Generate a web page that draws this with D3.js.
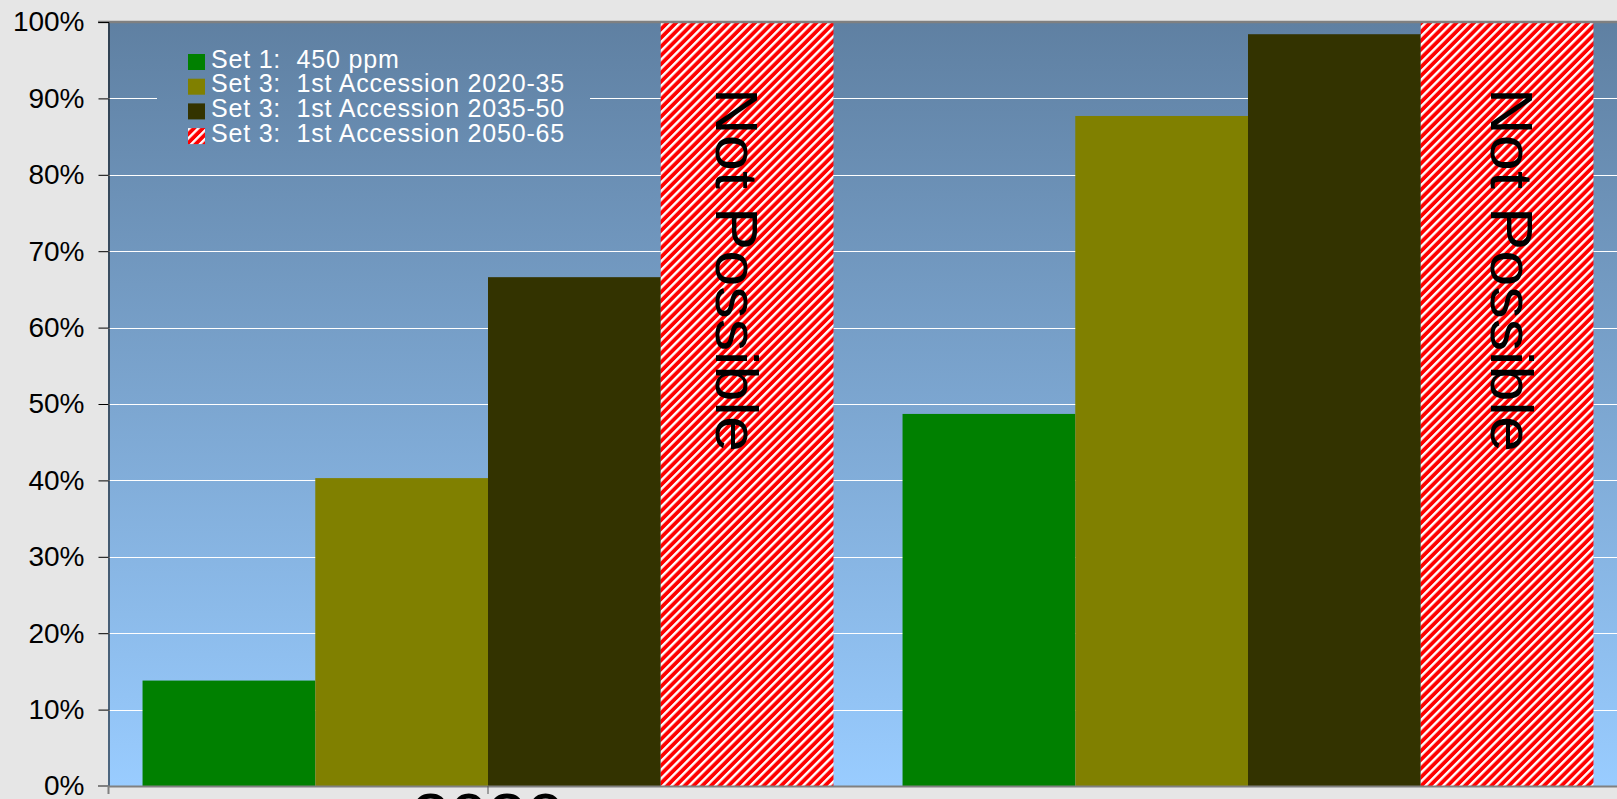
<!DOCTYPE html>
<html>
<head>
<meta charset="utf-8">
<script src="https://cdn.jsdelivr.net/npm/d3@7"></script>
<style>
  html, body { margin: 0; padding: 0; background: #e6e6e6; overflow: hidden; }
  text { font-family: "Liberation Sans", Arial, sans-serif; }
</style>
</head>
<body>
<svg id="chart" width="1617" height="799"></svg>
<script>
// categories (only the first label shows; the rest of the axis is cut off)
var groups = [0, 1];
var groupLabels = ["2030", ""];

var seriesNames = ["Set 1:  450 ppm",
                   "Set 3:  1st Accession 2020-35",
                   "Set 3:  1st Accession 2035-50",
                   "Set 3:  1st Accession 2050-65"];
var seriesColors = ["#008000", "#808000", "#333300", "url(#hatch)"];

var set1_450 = [0.138, 0.487];
var acc2020 = [0.403, 0.877];
var acc2035 = [0.666, 0.984];
var acc2050 = [1.0, 1.0];          // drawn full height, marked "Not Possible"
var acc2050Note = ["Not Possible", "Not Possible"];
var noteShift = [-9, 6];           // label nudge inside the hatched bar

var yTicks = [0, 0.1, 0.2, 0.3, 0.4, 0.5, 0.6, 0.7, 0.8, 0.9, 1.0];

var allSeries = [set1_450, acc2020, acc2035, acc2050];

var plotLeft = 108, plotTop = 22, plotBottom = 786;
var groupStep = 760;

var svg = d3.select("#chart");
var defs = svg.append("defs");

var grad = defs.append("linearGradient")
    .attr("id", "bg")
    .attr("gradientUnits", "userSpaceOnUse")
    .attr("x1", 0).attr("y1", plotTop)
    .attr("x2", 0).attr("y2", plotBottom);
grad.append("stop").attr("offset", "0%").attr("stop-color", "#5f80a2");
grad.append("stop").attr("offset", "100%").attr("stop-color", "#99ccff");

var hatch = defs.append("pattern")
    .attr("id", "hatch")
    .attr("patternUnits", "userSpaceOnUse")
    .attr("width", 6.2).attr("height", 6.2)
    .attr("patternTransform", "rotate(45)");
hatch.append("rect").attr("width", 6.2).attr("height", 6.2).attr("fill", "#ff0000");
hatch.append("rect").attr("x", 0).attr("width", 2.4).attr("height", 6.2).attr("fill", "#ffffff");

var xscale = d3.scaleBand()
    .domain(groups)
    .range([plotLeft, plotLeft + groupStep * groups.length]);

var xinner = d3.scaleBand()
    .domain(d3.range(seriesNames.length))
    .range([0, xscale.bandwidth()])
    .paddingInner(0)
    .paddingOuter(0.2);

var yscale = d3.scaleLinear()
    .domain([0, 1])
    .range([plotBottom, plotTop]);

// plot background
svg.append("rect")
    .attr("x", plotLeft)
    .attr("y", plotTop)
    .attr("width", xscale.range()[1] - plotLeft)
    .attr("height", plotBottom - plotTop)
    .attr("fill", "url(#bg)");

// gridlines
svg.append("g")
    .selectAll("line")
    .data(yTicks.filter(function(d){ return d > 0 && d < 1; }))
    .enter().append("line")
        .attr("x1", plotLeft)
        .attr("x2", xscale.range()[1])
        .attr("y1", function(d){ return Math.round(yscale(d)) + 0.5; })
        .attr("y2", function(d){ return Math.round(yscale(d)) + 0.5; })
        .attr("stroke", "#ffffff")
        .attr("stroke-width", 1);

// bars
var barG = svg.append("g");
allSeries.forEach(function(vals, si){
    barG.selectAll("rect.s" + si)
        .data(vals)
        .enter().append("rect")
            .attr("class", "s" + si)
            .attr("x", function(d, i){ return xscale(groups[i]) + xinner(si); })
            .attr("width", xinner.bandwidth())
            .attr("y", function(d){ return yscale(d); })
            .attr("height", function(d){ return yscale(0) - yscale(d); })
            .attr("fill", seriesColors[si]);
});

// "Not Possible" labels
barG.selectAll("text.note")
    .data(acc2050Note)
    .enter().append("text")
        .attr("class", "note")
        .attr("transform", function(d, i){
            var cx = xscale(groups[i]) + xinner(3) + xinner.bandwidth() / 2 + noteShift[i];
            return "translate(" + cx + "," + 88 + ") rotate(90)";
        })
        .attr("dy", "0.36em")
        .attr("font-size", "60px")
        .attr("textLength", 364)
        .attr("lengthAdjust", "spacingAndGlyphs")
        .attr("fill", "#000")
        .text(function(d){ return d; });

// top frame
svg.append("line")
    .attr("x1", plotLeft - 10).attr("x2", 1617)
    .attr("y1", plotTop).attr("y2", plotTop)
    .attr("stroke", "#808080").attr("stroke-width", 2.5);

// y axis
var yaxis = d3.axisLeft(yscale)
    .tickValues(yTicks)
    .tickSize(10)
    .tickPadding(14)
    .tickFormat(d3.format(".0%"));

var yg = svg.append("g")
    .attr("transform", "translate(" + (plotLeft + 0.5) + ",0)")
    .call(yaxis);
yg.select(".domain").attr("stroke", "#000");
yg.selectAll(".tick line").attr("stroke", "#000");
yg.selectAll(".tick text")
    .attr("font-size", "28px")
    .attr("font-family", "Liberation Sans, Arial, sans-serif")
    .attr("fill", "#000");

// x axis
var xaxis = d3.axisBottom(xscale)
    .tickSize(8)
    .tickPadding(0)
    .tickFormat(function(d, i){ return groupLabels[i]; });

var xg = svg.append("g")
    .attr("transform", "translate(0," + plotBottom + ")")
    .call(xaxis);
xg.select(".domain").attr("stroke", "#808080").attr("stroke-width", 2);
xg.selectAll(".tick line")
    .attr("stroke", "#555")
    .attr("display", function(d, i){ return groupLabels[i] ? null : "none"; });
xg.selectAll(".tick text")
    .attr("font-size", "69px")
    .attr("font-family", "Liberation Sans, Arial, sans-serif")
    .attr("dy", "0.71em")
    .attr("y", 6)
    .attr("fill", "#000");
svg.append("line")
    .attr("x1", plotLeft - 10).attr("x2", plotLeft)
    .attr("y1", plotBottom).attr("y2", plotBottom)
    .attr("stroke", "#808080").attr("stroke-width", 2);

// legend
var legend = svg.append("g");
legend.append("rect")
    .attr("x", 157).attr("y", 42)
    .attr("width", 433).attr("height", 108)
    .attr("fill", "url(#bg)");

var rowH = 24.7;
var rows = legend.selectAll("g.row")
    .data(seriesNames)
    .enter().append("g")
        .attr("class", "row")
        .attr("transform", function(d, i){ return "translate(188," + (54 + i * rowH) + ")"; });
rows.append("rect")
    .attr("width", 17).attr("height", 16)
    .attr("fill", function(d, i){ return seriesColors[i]; });
rows.append("text")
    .attr("x", 23)
    .attr("y", 13.5)
    .attr("font-size", "25px")
    .attr("letter-spacing", "0.8px")
    .attr("fill", "#ffffff")
    .style("white-space", "pre")
    .text(function(d){ return d; });
</script>
</body>
</html>
